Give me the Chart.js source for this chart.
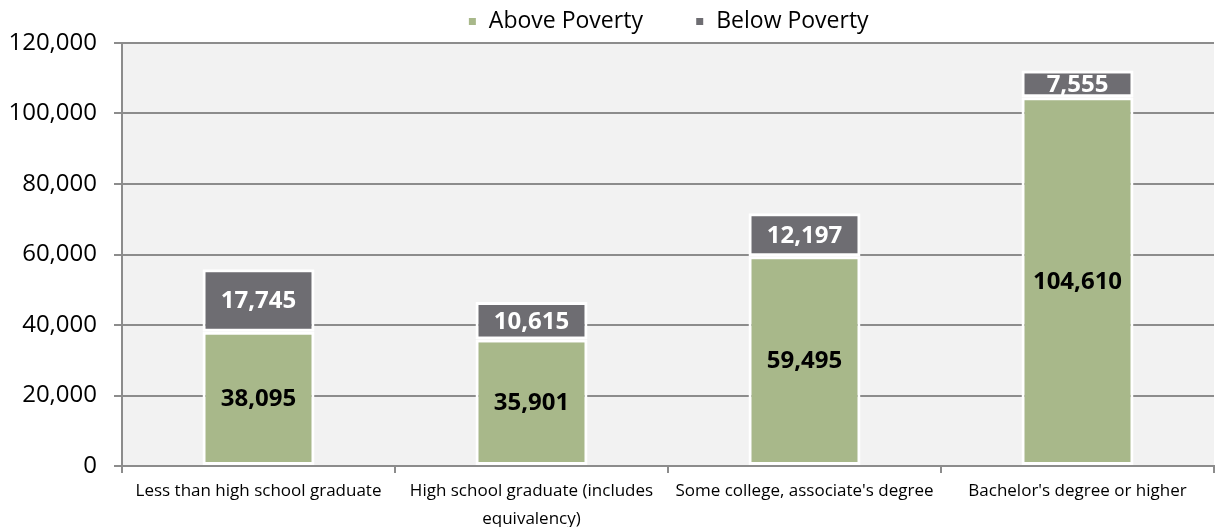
<!DOCTYPE html>
<html>
<head>
    <title>Poverty by education</title>
    <script src="https://cdn.jsdelivr.net/npm/chart.js"></script>
    <style>
        body { margin: 0; background: #fff; }
        #wrap { width: 1216px; height: 527px; }
    </style>
</head>
<body>
    <div id="wrap"><canvas id="chart"></canvas></div>
    <script>
        // chart data
        var categories = [
            "Less than high school graduate",
            ["High school graduate (includes", "equivalency)"],
            "Some college, associate's degree",
            "Bachelor's degree or higher"
        ];
        var abovePoverty = [38095, 35901, 59495, 104610];
        var belowPoverty = [17745, 10615, 12197, 7555];
        var yTicks = [0, 20000, 40000, 60000, 80000, 100000, 120000];

        var FONT = "'Open Sans', 'Liberation Sans', sans-serif";

        // grey plot background
        var plotBg = {
            id: "plotBg",
            beforeDraw: function (chart) {
                var a = chart.chartArea, ctx = chart.ctx;
                ctx.save();
                ctx.fillStyle = "#f2f2f2";
                ctx.fillRect(a.left, a.top, a.right - a.left, a.bottom - a.top);
                ctx.restore();
            }
        };

        // centre the legend over the plot area instead of the whole canvas
        var legendOverPlot = {
            id: "legendOverPlot",
            afterLayout: function (chart) {
                var lg = chart.legend;
                if (!lg) return;
                lg.left = chart.chartArea.left;
                lg.right = chart.chartArea.right;
                lg.width = lg.right - lg.left;
            }
        };

        // value labels in the middle of each segment
        var valueLabels = {
            id: "valueLabels",
            afterDatasetsDraw: function (chart) {
                var ctx = chart.ctx;
                ctx.save();
                ctx.font = "bold 24px " + FONT;
                ctx.textAlign = "center";
                ctx.textBaseline = "middle";
                chart.data.datasets.forEach(function (ds, i) {
                    var meta = chart.getDatasetMeta(i);
                    meta.data.forEach(function (bar, j) {
                        var mid = (bar.y + bar.base) / 2;
                        ctx.fillStyle = i === 0 ? "#000" : "#fff";
                        ctx.fillText(ds.data[j].toLocaleString("en-US"), bar.x, mid + 1);
                    });
                });
                ctx.restore();
            }
        };

        new Chart(document.getElementById("chart"), {
            type: "bar",
            data: {
                labels: categories,
                datasets: [{
                    label: "Above Poverty",
                    data: abovePoverty,
                    backgroundColor: "#a8b88a",
                    borderColor: "#fff",
                    borderWidth: 3,
                    borderSkipped: false
                }, {
                    label: "Below Poverty",
                    data: belowPoverty,
                    backgroundColor: "#6e6d72",
                    borderColor: "#fff",
                    borderWidth: 3,
                    borderSkipped: false
                }]
            },
            options: {
                responsive: true,
                maintainAspectRatio: false,
                animation: false,
                datasets: { bar: { categoryPercentage: 1, barPercentage: 0.41 } },
                layout: { padding: { left: 0, right: 2, top: 0, bottom: 0 } },
                plugins: {
                    legend: {
                        position: "top",
                        labels: {
                            boxWidth: 10,
                            boxHeight: 10,
                            padding: 10,
                            color: "#000",
                            font: { family: FONT, size: 23 },
                            // wider gap between the two items, like the original
                            generateLabels: function (chart) {
                                var items = Chart.defaults.plugins.legend.labels.generateLabels(chart);
                                items[0].text = items[0].text + "       ";
                                return items;
                            }
                        }
                    },
                    tooltip: { enabled: false }
                },
                scales: {
                    x: {
                        stacked: true,
                        offset: true,
                        afterFit: function (axis) { axis.height = 61; },
                        grid: {
                            offset: true,
                            drawOnChartArea: false,
                            tickLength: 7,
                            color: "#8c8c8c",
                            lineWidth: 2
                        },
                        border: { color: "#8c8c8c", width: 2 },
                        ticks: {
                            color: "#000",
                            maxRotation: 0,
                            autoSkip: false,
                            padding: 5,
                            font: { family: FONT, size: 17, lineHeight: 1.6 }
                        }
                    },
                    y: {
                        stacked: true,
                        min: 0,
                        max: 120000,
                        afterFit: function (axis) { axis.width = 122; },
                        afterBuildTicks: function (axis) {
                            axis.ticks = yTicks.map(function (v) { return { value: v }; });
                        },
                        grid: {
                            color: "#8c8c8c",
                            lineWidth: 2,
                            tickLength: 8
                        },
                        border: { color: "#8c8c8c", width: 2 },
                        ticks: {
                            color: "#000",
                            padding: 17,
                            font: { family: FONT, size: 24 },
                            callback: function (v) { return v.toLocaleString("en-US"); }
                        }
                    }
                }
            },
            plugins: [plotBg, legendOverPlot, valueLabels]
        });
    </script>
</body>
</html>
